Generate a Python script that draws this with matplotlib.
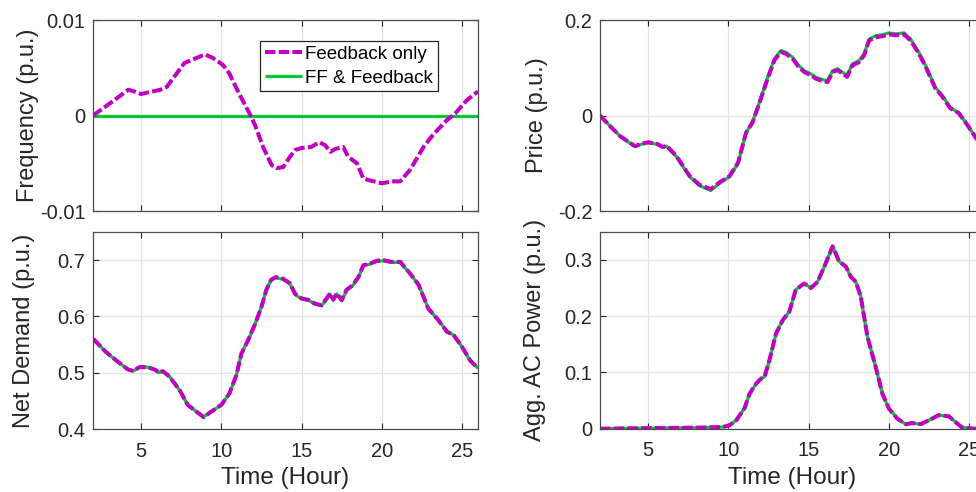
import matplotlib.pyplot as plt
import numpy as np

plt.rcParams['font.family'] = ['Liberation Sans', 'DejaVu Sans']

# --- data (time in hours) ---
t_freq = [2.0, 3.06, 4.2, 4.6, 5.0, 6.2, 6.6, 7.7, 8.98, 9.5, 10.1, 10.5, 11.1, 11.7,
          12.1, 12.6, 13.14, 13.45, 13.86, 14.28, 14.6, 15.0, 15.6, 16.1, 16.46, 16.8,
          17.1, 17.6, 17.9, 18.45, 18.85, 19.27, 20.0, 20.62, 21.14, 21.76, 22.6, 23.2,
          24.05, 24.57, 25.3, 25.9, 26.0]
freq_fb = [0.0, 0.00128, 0.0027, 0.0025, 0.00225, 0.0027, 0.003, 0.0055, 0.0064, 0.006,
           0.0053, 0.0044, 0.0023, 0.0004, -0.001, -0.0033, -0.0052, -0.0055, -0.0054,
           -0.0043, -0.0036, -0.0034, -0.0033, -0.0028, -0.0031, -0.0038, -0.0035,
           -0.0033, -0.0043, -0.005, -0.0066, -0.0068, -0.0071, -0.0069, -0.0069,
           -0.0057, -0.0033, -0.002, -0.0005, 0.0002, 0.0016, 0.0024, 0.0025]
t_freq_ff = [2.0, 26.0]
freq_ff = [0.0, 0.0]

t_nd = [2.02, 2.8, 3.44, 4.17, 4.5, 4.9, 5.4, 5.9, 6.1, 6.35, 6.77, 7.4, 7.9, 8.44, 8.9,
        9.27, 10.0, 10.5, 10.94, 11.25, 11.67, 12.08, 12.5, 12.8, 13.1, 13.4, 13.85,
        14.27, 14.6, 15.0, 15.5, 15.8, 16.25, 16.56, 16.77, 16.98, 17.2, 17.5, 17.8,
        18.2, 18.54, 18.85, 19.27, 19.7, 20.1, 20.6, 21.15, 21.77, 22.3, 22.9, 23.54,
        24.06, 24.48, 25.0, 25.5, 26.0]
nd_fb = [0.56, 0.537, 0.522, 0.506, 0.503, 0.51, 0.51, 0.505, 0.5, 0.503, 0.493, 0.469,
         0.443, 0.431, 0.421, 0.429, 0.443, 0.463, 0.496, 0.534, 0.558, 0.585, 0.617,
         0.647, 0.665, 0.67, 0.667, 0.659, 0.64, 0.632, 0.629, 0.623, 0.62, 0.632, 0.641,
         0.63, 0.641, 0.629, 0.647, 0.656, 0.67, 0.691, 0.694, 0.699, 0.7, 0.697, 0.697,
         0.676, 0.656, 0.614, 0.593, 0.573, 0.567, 0.546, 0.522, 0.508]
nd_ff = [0.56, 0.537, 0.522, 0.506, 0.503, 0.51, 0.51, 0.505, 0.5, 0.503, 0.493, 0.469,
         0.443, 0.431, 0.422, 0.429, 0.443, 0.463, 0.496, 0.534, 0.558, 0.585, 0.617,
         0.647, 0.665, 0.669, 0.666, 0.658, 0.639, 0.631, 0.628, 0.622, 0.619, 0.631, 0.64,
         0.629, 0.64, 0.628, 0.646, 0.655, 0.669, 0.69, 0.693, 0.698, 0.699, 0.696, 0.696,
         0.676, 0.656, 0.614, 0.593, 0.573, 0.567, 0.546, 0.522, 0.508]

t_price = [2.0, 2.62, 3.24, 4.17, 4.59, 5.0, 5.52, 5.93, 6.14, 6.76, 7.59, 8.2, 8.9, 9.45,
           10.07, 10.6, 11.1, 11.5, 11.94, 12.46, 12.87, 13.28, 13.6, 14.0, 14.4, 14.73,
           15.15, 15.46, 15.87, 16.18, 16.5, 16.8, 17.1, 17.4, 17.73, 18.15, 18.46, 18.77,
           19.18, 19.6, 20.0, 20.43, 20.95, 21.36, 21.87, 22.3, 22.9, 23.33, 23.84, 24.36,
           24.88, 25.35, 26.0]
price_fb = [0.0, -0.022, -0.043, -0.064, -0.059, -0.056, -0.059, -0.066, -0.063, -0.085,
            -0.127, -0.145, -0.154, -0.14, -0.127, -0.099, -0.036, -0.015, 0.027, 0.079,
            0.116, 0.133, 0.129, 0.119, 0.101, 0.091, 0.084, 0.077, 0.072, 0.07, 0.091,
            0.095, 0.088, 0.081, 0.105, 0.112, 0.126, 0.157, 0.164, 0.166, 0.17, 0.168,
            0.17, 0.157, 0.13, 0.102, 0.057, 0.04, 0.015, 0.005, -0.019, -0.043, -0.075]
price_ff = [0.0, -0.022, -0.043, -0.065, -0.06, -0.057, -0.06, -0.067, -0.064, -0.086,
            -0.128, -0.147, -0.157, -0.142, -0.128, -0.1, -0.036, -0.014, 0.028, 0.081,
            0.119, 0.136, 0.132, 0.122, 0.104, 0.094, 0.087, 0.08, 0.075, 0.073, 0.094,
            0.098, 0.091, 0.084, 0.108, 0.115, 0.129, 0.16, 0.167, 0.169, 0.173, 0.171,
            0.173, 0.16, 0.132, 0.104, 0.059, 0.042, 0.016, 0.006, -0.019, -0.043, -0.075]

t_ac = [2.0, 8.4, 9.66, 10.07, 10.49, 11.0, 11.32, 11.73, 12.04, 12.25, 12.56, 12.97,
        13.39, 13.8, 14.2, 14.73, 15.15, 15.56, 15.98, 16.5, 16.9, 17.32, 17.63, 17.94,
        18.25, 18.67, 19.18, 19.6, 20.0, 20.53, 21.05, 21.46, 21.98, 22.5, 23.1, 23.74,
        24.15, 24.57, 25.35, 26.0]
ac_fb = [0.0, 0.002, 0.003, 0.006, 0.015, 0.036, 0.062, 0.08, 0.089, 0.092, 0.122, 0.169,
         0.193, 0.208, 0.247, 0.258, 0.25, 0.261, 0.288, 0.324, 0.297, 0.288, 0.27, 0.261,
         0.235, 0.163, 0.11, 0.062, 0.036, 0.018, 0.008, 0.01, 0.008, 0.015, 0.024, 0.022,
         0.012, 0.002, 0.0, 0.0]
ac_ff = ac_fb

xticks = [5, 10, 15, 20, 25]
magenta = '#c000c0'
green = '#00c832'
txt = '#262626'

fig = plt.figure(figsize=(9.76, 4.92), dpi=100)
ax1 = fig.add_axes([0.0953, 0.5711, 0.3945, 0.3882])
ax2 = fig.add_axes([0.6148, 0.5711, 0.3945, 0.3882])
ax3 = fig.add_axes([0.0953, 0.128, 0.3945, 0.4004])
ax4 = fig.add_axes([0.6148, 0.1287, 0.3945, 0.4004])

panels = [
    (ax1, t_freq_ff, freq_ff, t_freq, freq_fb, (-0.01, 0.01), [-0.01, 0, 0.01],
     ['-0.01', '0', '0.01'], 'Frequency (p.u.)', -0.14),
    (ax2, t_price, price_ff, t_price, price_fb, (-0.2, 0.2), [-0.2, 0, 0.2],
     ['-0.2', '0', '0.2'], 'Price (p.u.)', -0.135),
    (ax3, t_nd, nd_ff, t_nd, nd_fb, (0.4, 0.75), [0.4, 0.5, 0.6, 0.7],
     ['0.4', '0.5', '0.6', '0.7'], 'Net Demand (p.u.)', -0.15),
    (ax4, t_ac, ac_ff, t_ac, ac_fb, (0, 0.35), [0, 0.1, 0.2, 0.3],
     ['0', '0.1', '0.2', '0.3'], 'Agg. AC Power (p.u.)', -0.14),
]

for i, (ax, tf, yf, tb, yb, ylim, yt, ytl, ylab, labx) in enumerate(panels):
    ax.plot(tf, yf, color=green, lw=2.3, solid_capstyle='butt', label='FF & Feedback')
    ax.plot(tb, yb, color=magenta, lw=2.9, dashes=(2.6, 0.8), label='Feedback only')
    ax.set_xlim(2, 26)
    ax.set_ylim(*ylim)
    ax.set_xticks(xticks)
    ax.set_yticks(yt)
    ax.set_yticklabels(ytl)
    ax.grid(True, color='#e3e3e3', lw=0.9)
    ax.set_axisbelow(True)
    ax.tick_params(direction='in', length=4, width=0.8, colors=txt, labelsize=14.5,
                   top=True, right=True)
    ax.tick_params(axis='y', pad=5.5)
    ax.tick_params(axis='x', pad=9)
    for s in ax.spines.values():
        s.set_color('#4d4d4d')
        s.set_linewidth(0.9)
    ax.set_ylabel(ylab, fontsize=17, color=txt)
    ax.yaxis.set_label_coords(labx, 0.5)
    if i < 2:
        ax.set_xticklabels([])
    else:
        ax.set_xlabel('Time (Hour)', fontsize=17.5, color=txt, labelpad=5)

h, l = ax1.get_legend_handles_labels()
leg = ax1.legend(h[::-1], l[::-1], loc='upper right', bbox_to_anchor=(0.895, 0.89),
                 fontsize=13.5, fancybox=False, framealpha=1, edgecolor='#262626',
                 handlelength=2.0, handletextpad=0.15, borderpad=0.25, labelspacing=0.35,
                 borderaxespad=0)
leg.get_frame().set_linewidth(0.9)

fig.savefig('out.png', dpi=100)
